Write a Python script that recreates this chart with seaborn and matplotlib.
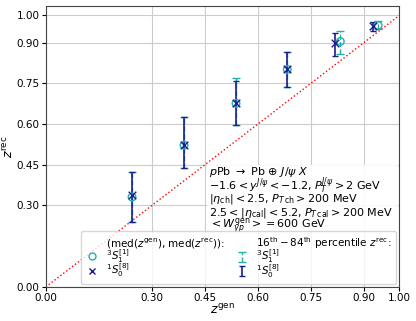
import seaborn as sns
import matplotlib.pyplot as plt
import pandas as pd
from matplotlib.lines import Line2D

# medians and 16-84 percentile bands
zgen_s1 = [0.244, 0.391, 0.538, 0.683, 0.833, 0.940]
zrec_s1 = [0.331, 0.522, 0.676, 0.801, 0.904, 0.963]
lo_s1 = [0.239, 0.437, 0.596, 0.735, 0.857, 0.949]
hi_s1 = [0.425, 0.627, 0.768, 0.866, 0.941, 0.981]

zgen_s0 = [0.244, 0.391, 0.538, 0.683, 0.819, 0.926]
zrec_s0 = [0.338, 0.522, 0.676, 0.801, 0.897, 0.960]
lo_s0 = [0.239, 0.437, 0.596, 0.735, 0.849, 0.941]
hi_s0 = [0.423, 0.625, 0.757, 0.864, 0.934, 0.974]

ticks = [0.0, 0.30, 0.45, 0.60, 0.75, 0.90, 1.00]

info_lines = ["$p$Pb $\\rightarrow$ Pb $\\oplus$ $J/\\psi$ $X$",
              "$-1.6 < y^{J/\\psi} < -1.2$, $P_T^{J/\\psi} > 2$ GeV",
              "$|\\eta_{\\rm ch}| < 2.5$, $P_{T\\,\\rm ch} > 200$ MeV",
              "$2.5 < |\\eta_{\\rm cal}| < 5.2$, $P_{T\\,\\rm cal} > 200$ MeV",
              "$< W_{\\gamma p}^{\\rm gen} > = 600$ GeV"]

c1 = "lightseagreen"
c8 = "#1c1c8f"

plt.rcParams["font.size"] = 7
plt.rcParams["axes.edgecolor"] = "#444444"
fig, ax = plt.subplots(figsize=(4.16, 3.21), dpi=100)

df1 = pd.DataFrame({"zgen": zgen_s1, "zrec": zrec_s1})
df8 = pd.DataFrame({"zgen": zgen_s0, "zrec": zrec_s0})

ax.plot([0, 1], [0, 1], ls=":", color="red", lw=1, zorder=1)

e1 = ax.errorbar(zgen_s1, zrec_s1,
                 yerr=[[m - l for m, l in zip(zrec_s1, lo_s1)], [h - m for m, h in zip(zrec_s1, hi_s1)]],
                 fmt="none", ecolor=c1, capsize=3, elinewidth=1, zorder=2)
e1[-1][0].set_linestyle("--")
e8 = ax.errorbar(zgen_s0, zrec_s0,
                 yerr=[[m - l for m, l in zip(zrec_s0, lo_s0)], [h - m for m, h in zip(zrec_s0, hi_s0)]],
                 fmt="none", ecolor=c8, capsize=2.5, elinewidth=1.2, zorder=3)

sns.scatterplot(data=df1, x="zgen", y="zrec", marker="o", s=30, facecolor="none",
                edgecolor=c1, linewidth=1, ax=ax, zorder=4)
sns.scatterplot(data=df8, x="zgen", y="zrec", marker="x", s=30, color=c8,
                linewidth=1, ax=ax, zorder=5)

ax.set_xlim(0, 1)
ax.set_ylim(0, 1.033)
ax.set_xticks(ticks)
ax.set_yticks(ticks)
ax.set_xticklabels([f"{t:.2f}" for t in ticks], fontsize=7.5)
ax.set_yticklabels([f"{t:.2f}" for t in ticks], fontsize=7.5)
ax.tick_params(length=3, pad=1.5)
ax.grid(True, color="#cccccc", lw=0.8)
ax.set_axisbelow(True)
ax.set_xlabel("$z^{\\rm gen}$", fontsize=9, labelpad=0)
ax.set_ylabel("$z^{\\rm rec}$", fontsize=9, labelpad=0)

# white patch behind the info block
ax.add_patch(plt.Rectangle((0.455, 0.2), 0.54, 0.235, transform=ax.transAxes,
                           facecolor="white", edgecolor="none", alpha=0.9, zorder=6))
for i, line in enumerate(info_lines):
    ax.text(0.462, 0.409 - 0.048 * i, line, fontsize=8, va="center", ha="left",
            transform=ax.transAxes, zorder=7)

blank = Line2D([], [], ls="none")
h_o = Line2D([], [], ls="none", marker="o", mfc="none", mec=c1, ms=5)
h_x = Line2D([], [], ls="none", marker="x", color=c8, ms=5)
handles = [blank, h_o, h_x, blank, e1, e8]
labels = ["(med($z^{\\rm gen}$), med($z^{\\rm rec}$)):", "$^3S_1^{[1]}$", "$^1S_0^{[8]}$",
          "16$^{\\rm th}-84^{\\rm th}$ percentile $z^{\\rm rec}$:", "$^3S_1^{[1]}$", "$^1S_0^{[8]}$"]
leg = ax.legend(handles, labels, ncol=2, loc="lower right", fontsize=7.5, handlelength=1.2,
                labelspacing=-0.35, columnspacing=1.0, borderaxespad=0.3, borderpad=0.4,
                framealpha=0.8)
leg.set_zorder(8)

fig.subplots_adjust(left=0.11, right=0.96, top=0.98, bottom=0.106)
fig.savefig("out.png", dpi=100)
